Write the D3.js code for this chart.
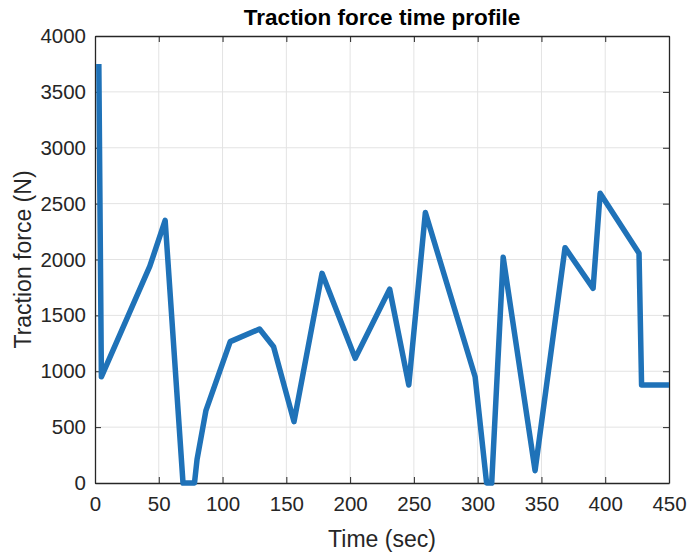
<!DOCTYPE html>
<html><head><meta charset="utf-8">
<script src="https://cdn.jsdelivr.net/npm/d3@7"></script>
<style>body{margin:0;background:#fff;}svg{display:block;font-family:"Liberation Sans",Arial,sans-serif;}</style>
</head><body>
<svg id="c" width="689" height="554"></svg>
<script>
const timeSec = [3, 5, 43, 55, 69, 78, 80, 87, 106, 129, 140, 156, 178, 204, 231, 246, 259, 298, 307, 311, 320, 345, 368.5, 390.5, 396, 426.5, 428.5, 450];
const forceN  = [3750, 950, 1940, 2350, 0, 0, 210, 650, 1265, 1378, 1220, 549, 1876, 1116, 1735, 877, 2420, 951, 0, 0, 2020, 110, 2106, 1742, 2592, 2055, 877, 877];
const xTicks = [0, 50, 100, 150, 200, 250, 300, 350, 400, 450];
const yTicks = [0, 500, 1000, 1500, 2000, 2500, 3000, 3500, 4000];

const svg = d3.select("#c");
const L = 95, R = 669, T = 36, B = 483;
const x = d3.scaleLinear().domain([0, 450]).range([L, R]);
const y = d3.scaleLinear().domain([0, 4000]).range([B, T]);
const fmt = d3.format("d");

// grid
svg.append("g").selectAll("line").data(xTicks.slice(1, -1)).join("line")
  .attr("x1", d => x(d)).attr("x2", d => x(d)).attr("y1", T).attr("y2", B)
  .attr("stroke", "#e3e3e3").attr("stroke-width", 1);
svg.append("g").selectAll("line").data(yTicks.slice(1, -1)).join("line")
  .attr("y1", d => y(d)).attr("y2", d => y(d)).attr("x1", L).attr("x2", R)
  .attr("stroke", "#e3e3e3").attr("stroke-width", 1);

// axes
const ax = svg.append("g").attr("transform", `translate(0,${B})`)
  .call(d3.axisBottom(x).tickValues(xTicks).tickFormat(fmt).tickSizeInner(-6).tickSizeOuter(0).tickPadding(13));
const axTop = svg.append("g").attr("transform", `translate(0,${T})`)
  .call(d3.axisTop(x).tickValues(xTicks).tickSizeInner(-6).tickSizeOuter(0).tickFormat(""));
const ay = svg.append("g").attr("transform", `translate(${L},0)`)
  .call(d3.axisLeft(y).tickValues(yTicks).tickFormat(fmt).tickSizeInner(-6).tickSizeOuter(0).tickPadding(9));
const ayR = svg.append("g").attr("transform", `translate(${R},0)`)
  .call(d3.axisRight(y).tickValues(yTicks).tickSizeInner(-6).tickSizeOuter(0).tickFormat(""));
[ax, axTop, ay, ayR].forEach(g => {
  g.select(".domain").attr("stroke", "#262626").attr("stroke-width", 1.3);
  g.selectAll(".tick line").attr("stroke", "#262626").attr("stroke-width", 1);
  g.selectAll(".tick text").attr("fill", "#262626").style("font-size", "20.5px").style("font-family", '"Liberation Sans",Arial,sans-serif');
});

// line
const line = d3.line().x((d, i) => x(timeSec[i])).y(d => y(d));
svg.append("path").datum(forceN).attr("d", line)
  .attr("fill", "none").attr("stroke", "#1f72b8").attr("stroke-width", 5.5)
  .attr("stroke-linejoin", "round").attr("stroke-linecap", "butt");

// labels
svg.append("text").attr("x", (L + R) / 2).attr("y", 25).attr("text-anchor", "middle")
  .attr("font-weight", "bold").attr("font-size", 22.5).attr("fill", "#000").text("Traction force time profile");
svg.append("text").attr("x", (L + R) / 2).attr("y", 547).attr("text-anchor", "middle")
  .attr("font-size", 23).attr("fill", "#262626").text("Time (sec)");
svg.append("text").attr("transform", `translate(31,${(T + B) / 2}) rotate(-90)`).attr("text-anchor", "middle")
  .attr("font-size", 23).attr("fill", "#262626").text("Traction force (N)");
</script>
</body></html>
